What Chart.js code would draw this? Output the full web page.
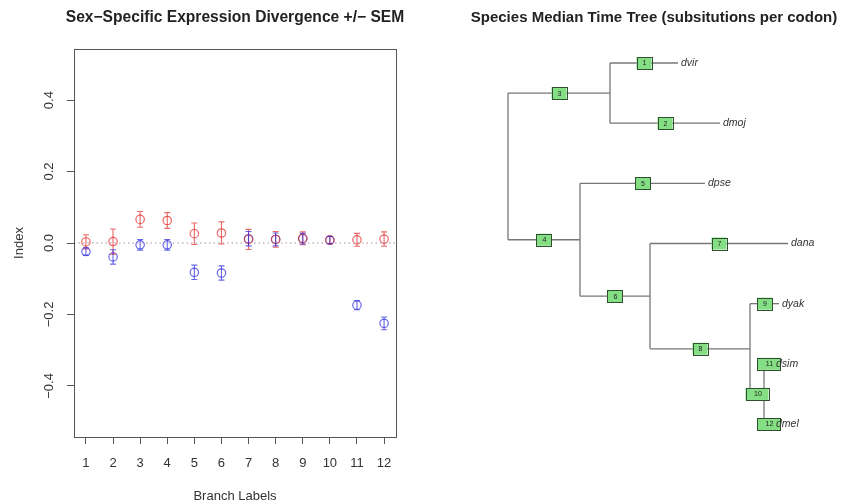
<!DOCTYPE html>
<html>
<head>
<meta charset="utf-8">
<script src="https://cdn.jsdelivr.net/npm/chart.js@4"></script>
<style>
  body { margin: 0; background: #fff; width: 852px; height: 504px; position: relative; overflow: hidden; }
  #left { position: absolute; left: 0; top: 0; }
  #right { position: absolute; left: 430px; top: 0; }
</style>
</head>
<body>
<canvas id="left" width="430" height="504"></canvas>
<canvas id="right" width="422" height="504"></canvas>
<script>
// Left panel: sex-specific divergence index per branch, +/- SEM
const branchLabels = [1, 2, 3, 4, 5, 6, 7, 8, 9, 10, 11, 12];
const redIndex = [0.003, 0.004, 0.066, 0.063, 0.026, 0.028, 0.010, 0.010, 0.013, 0.008, 0.009, 0.011];
const redSem   = [0.020, 0.035, 0.022, 0.022, 0.030, 0.031, 0.028, 0.022, 0.018, 0.010, 0.018, 0.020];
const blueIndex = [-0.024, -0.039, -0.005, -0.005, -0.082, -0.084, 0.012, 0.010, 0.012, 0.008, -0.174, -0.225];
const blueSem   = [0.010, 0.020, 0.015, 0.015, 0.020, 0.020, 0.020, 0.018, 0.015, 0.010, 0.013, 0.018];
const yTicks = [-0.4, -0.2, 0, 0.2, 0.4];

// Right panel: species tree (depth = substitutions per codon, row = tip order)
const tipNames = ['dvir', 'dmoj', 'dpse', 'dana', 'dyak', 'dsim', 'dmel'];
const tipDepth = [0.170, 0.212, 0.197, 0.280, 0.271, 0.265, 0.265];
const tipRow = [7, 6, 5, 4, 3, 2, 1];
const nodeNames = ['root', 'A', 'B', 'C', 'D', 'E'];
const nodeDepth = [0, 0.102, 0.072, 0.142, 0.242, 0.256];
const edgeParent = ['A', 'A', 'root', 'root', 'B', 'B', 'C', 'C', 'D', 'D', 'E', 'E'];
const edgeChild = ['dvir', 'dmoj', 'A', 'B', 'dpse', 'C', 'dana', 'D', 'dyak', 'E', 'dsim', 'dmel'];
const edgeLabels = [1, 2, 3, 4, 5, 6, 7, 8, 9, 10, 11, 12];

const FONT = '"Liberation Sans", Arial, Helvetica, sans-serif';
const minus = v => (v < 0 ? '\u2212' : '') + Math.abs(v).toFixed(1);

// draws a bold title centred at a given x position
const panelTitle = {
  id: 'panelTitle',
  afterDraw(chart, args, opts) {
    const ctx = chart.ctx;
    ctx.save();
    ctx.font = 'bold ' + opts.size + 'px ' + FONT;
    ctx.fillStyle = '#222';
    ctx.textAlign = 'center';
    ctx.textBaseline = 'middle';
    ctx.fillText(opts.text, opts.x, opts.y);
    ctx.restore();
  }
};

const frame = {
  id: 'frame',
  afterDraw(chart) {
    const { ctx, chartArea: a } = chart;
    ctx.save();
    ctx.strokeStyle = '#555';
    ctx.lineWidth = 1;
    ctx.strokeRect(a.left + 0.5, a.top + 0.5, a.right - a.left, a.bottom - a.top);
    ctx.restore();
  }
};

const errorBars = {
  id: 'errorBars',
  afterDatasetsDraw(chart) {
    const { ctx, scales: { x, y } } = chart;
    chart.data.datasets.forEach(ds => {
      if (!ds.sem) return;
      ctx.save();
      ctx.strokeStyle = ds.borderColor;
      ctx.lineWidth = 1.1;
      ds.data.forEach((p, j) => {
        const px = x.getPixelForValue(p.x);
        const lo = y.getPixelForValue(p.y - ds.sem[j]);
        const hi = y.getPixelForValue(p.y + ds.sem[j]);
        ctx.beginPath();
        ctx.moveTo(px, lo); ctx.lineTo(px, hi);
        ctx.moveTo(px - 3, lo); ctx.lineTo(px + 3, lo);
        ctx.moveTo(px - 3, hi); ctx.lineTo(px + 3, hi);
        ctx.stroke();
      });
      ctx.restore();
    });
  }
};

const xMin = 0.56, xMax = 12.44;
const red = 'rgba(228, 45, 45, 0.72)';
const blue = 'rgba(45, 45, 225, 0.72)';

new Chart(document.getElementById('left'), {
  type: 'scatter',
  data: {
    datasets: [
      {
        type: 'line',
        data: [{ x: xMin, y: 0 }, { x: xMax, y: 0 }],
        borderColor: '#b090a4',
        borderWidth: 1.2,
        borderDash: [1.5, 3],
        pointRadius: 0
      },
      {
        data: branchLabels.map((b, i) => ({ x: b, y: redIndex[i] })),
        sem: redSem,
        borderColor: red,
        backgroundColor: 'rgba(0,0,0,0)',
        pointRadius: 4.2,
        borderWidth: 1.2
      },
      {
        data: branchLabels.map((b, i) => ({ x: b, y: blueIndex[i] })),
        sem: blueSem,
        borderColor: blue,
        backgroundColor: 'rgba(0,0,0,0)',
        pointRadius: 4.2,
        borderWidth: 1.2
      }
    ]
  },
  options: {
    responsive: false,
    animation: false,
    layout: { padding: { top: 49, right: 34, left: 0, bottom: 0 } },
    plugins: {
      legend: { display: false },
      tooltip: { enabled: false },
      panelTitle: { text: 'Sex\u2212Specific Expression Divergence +/\u2212 SEM', x: 235, y: 18, size: 15.6 }
    },
    scales: {
      x: {
        type: 'linear',
        min: xMin,
        max: xMax,
        afterBuildTicks: s => { s.ticks = branchLabels.map(v => ({ value: v })); },
        afterFit: s => { s.height = 67; },
        border: { display: false },
        grid: { display: true, drawOnChartArea: false, drawTicks: true, tickLength: 7, color: '#555' },
        ticks: { color: '#333', padding: 12, font: { family: FONT, size: 13 }, maxRotation: 0, autoSkip: false },
        title: { display: true, text: 'Branch Labels', color: '#333', font: { family: FONT, size: 13 }, padding: { top: 0, bottom: 0 } }
      },
      y: {
        type: 'linear',
        min: -0.543,
        max: 0.543,
        afterBuildTicks: s => { s.ticks = yTicks.map(v => ({ value: v })); },
        afterFit: s => { s.width = 74; },
        border: { display: false },
        grid: { display: true, drawOnChartArea: false, drawTicks: true, tickLength: 7, color: '#555' },
        ticks: {
          color: '#333', padding: 5, minRotation: 90, maxRotation: 90, crossAlign: 'center',
          font: { family: FONT, size: 13 }, callback: v => minus(v)
        },
        title: { display: true, text: 'Index', color: '#333', font: { family: FONT, size: 13 }, padding: { top: 12, bottom: 0 } }
      }
    }
  },
  plugins: [errorBars, frame, panelTitle]
});

// ---- tree ----
const depthOf = {};
const rowOf = {};
tipNames.forEach((n, i) => { depthOf[n] = tipDepth[i]; rowOf[n] = tipRow[i]; });
nodeNames.forEach((n, i) => { depthOf[n] = nodeDepth[i]; });
// internal node row = mean row of its children
function nodeRow(n) {
  if (rowOf[n] !== undefined) return rowOf[n];
  const kids = edgeChild.filter((c, i) => edgeParent[i] === n);
  rowOf[n] = kids.reduce((s, c) => s + nodeRow(c), 0) / kids.length;
  return rowOf[n];
}
nodeNames.forEach(nodeRow);

const treeLine = '#777';
const segs = [];
edgeChild.forEach((c, i) => {
  const p = edgeParent[i];
  segs.push([{ x: depthOf[p], y: rowOf[c] }, { x: depthOf[c], y: rowOf[c] }]);
});
nodeNames.forEach(n => {
  const rows = edgeChild.filter((c, i) => edgeParent[i] === n).map(c => rowOf[c]);
  segs.push([{ x: depthOf[n], y: Math.min(...rows) }, { x: depthOf[n], y: Math.max(...rows) }]);
});

const treeMarks = {
  id: 'treeMarks',
  afterDatasetsDraw(chart) {
    const { ctx, scales: { x, y } } = chart;
    ctx.save();
    // edge label boxes
    ctx.font = '7px ' + FONT;
    ctx.textAlign = 'center';
    ctx.textBaseline = 'middle';
    edgeLabels.forEach((lab, i) => {
      const p = edgeParent[i], c = edgeChild[i];
      const cx = x.getPixelForValue((depthOf[p] + depthOf[c]) / 2);
      const cy = y.getPixelForValue(rowOf[c]);
      const w = lab < 10 ? 15 : 23, h = 12;
      ctx.fillStyle = '#84df84';
      ctx.fillRect(cx - w / 2, cy - h / 2, w, h);
      ctx.strokeStyle = '#2f4f2f';
      ctx.lineWidth = 1;
      ctx.strokeRect(Math.round(cx - w / 2) + 0.5, Math.round(cy - h / 2) + 0.5, w, h);
      ctx.fillStyle = '#222';
      ctx.fillText(String(lab), cx + (lab < 10 ? 0.5 : 1), cy + 0.5);
    });
    // tip labels
    ctx.font = 'italic 10.5px ' + FONT;
    ctx.fillStyle = '#333';
    ctx.textAlign = 'left';
    tipNames.forEach((n, i) => {
      ctx.fillText(n, x.getPixelForValue(tipDepth[i]) + 3, y.getPixelForValue(tipRow[i]));
    });
    ctx.restore();
  }
};

new Chart(document.getElementById('right'), {
  type: 'scatter',
  data: {
    datasets: segs.map(s => ({
      data: s,
      showLine: true,
      borderColor: treeLine,
      borderWidth: 1.3,
      pointRadius: 0
    }))
  },
  options: {
    responsive: false,
    animation: false,
    layout: { padding: { top: 40, left: 30, right: 12, bottom: 44 } },
    plugins: {
      legend: { display: false },
      tooltip: { enabled: false },
      panelTitle: { text: 'Species Median Time Tree (subsitutions per codon)', x: 224, y: 18, size: 15 }
    },
    scales: {
      x: { type: 'linear', display: false, min: -0.048, max: 0.332 },
      y: { type: 'linear', display: false, min: 0.402, max: 7.382 }
    }
  },
  plugins: [treeMarks, panelTitle]
});
</script>
</body>
</html>
